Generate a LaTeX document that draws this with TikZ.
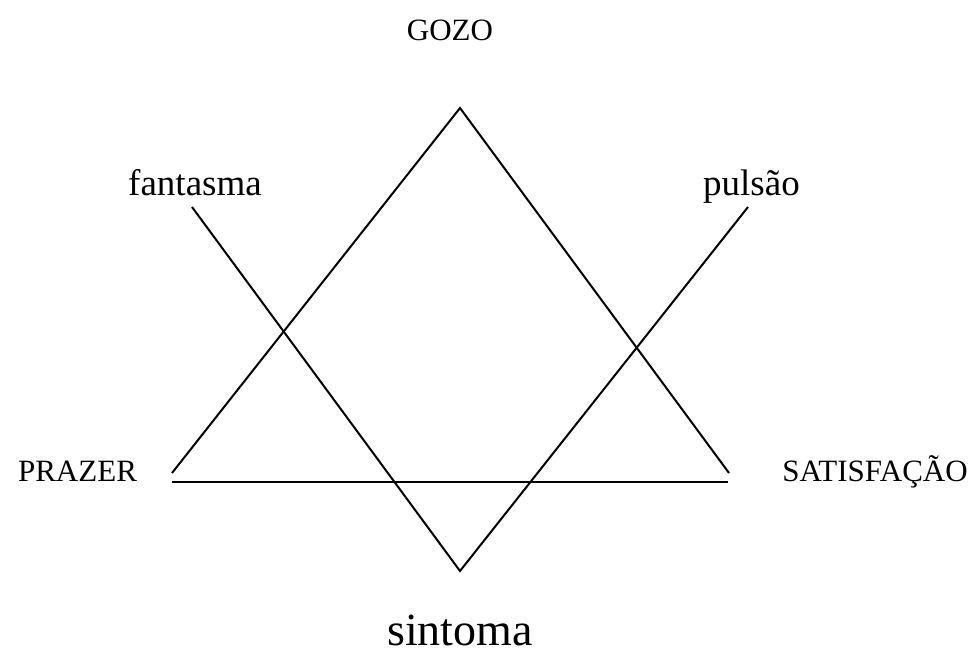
\documentclass[tikz,border=0pt]{standalone}
\usepackage{fontspec}
\setmainfont{Liberation Serif}
\usetikzlibrary{positioning}
\tikzset{
    side/.style={line width=2pt},
    baseLine/.style={line width=2.8pt},
    capsLabel/.style={font=\fontsize{31}{31}\selectfont, anchor=base, inner sep=0pt},
    wordLabel/.style={font=\fontsize{37}{37}\selectfont, anchor=base, inner sep=0pt}
}
\begin{document}
\begin{tikzpicture}[x=1pt,y=-1pt]
        \useasboundingbox (0,0) rectangle (979,664);
        % vertices
        \coordinate (top) at (460,108);
        \coordinate (left) at (172,473);
        \coordinate (right) at (729,473);
        \coordinate (fantEnd) at (192,207);
        \coordinate (pulsEnd) at (748,207);
        \coordinate (bottom) at (460,571);
        \coordinate (baseL) at (172,482);
        \coordinate (baseR) at (728,482);
        \draw[side] (left) -- (top) -- (right);
        \draw[side] (fantEnd) -- (bottom) -- (pulsEnd);
        \draw[baseLine] (baseL) -- (baseR);
        % labels
        \node[capsLabel] (gozo) at (450,40) {GOZO};
        \node[capsLabel] (prazer) at (77.5,481) {PRAZER};
        \node[capsLabel] (satisf) at (875,481) {SATISFAÇÃO};
        \node[wordLabel] (fantasma) at (195,195) {fantasma};
        \node[wordLabel] (pulsao) at (751.5,195) {pulsão};
        \node[wordLabel, font=\fontsize{46}{46}\selectfont] (sintoma) at (460,645) {sintoma};
\end{tikzpicture}
\end{document}
